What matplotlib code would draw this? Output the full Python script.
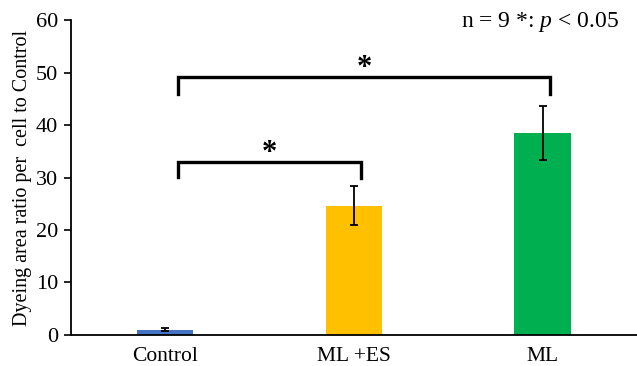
import matplotlib
matplotlib.use("Agg")
import matplotlib.pyplot as plt

groups = ["Control", "ML+ES", "ML"]
values = [1.0, 24.6, 38.5]
errors = [0.3, 3.7, 5.2]
colors = ["#4472C4", "#FFC000", "#00B050"]

plt.rcParams['font.family'] = ['Liberation Serif', 'DejaVu Serif']
plt.rcParams['mathtext.fontset'] = 'custom'
plt.rcParams['mathtext.rm'] = 'Liberation Serif'
plt.rcParams['mathtext.it'] = 'Liberation Serif:italic'

fig = plt.figure(figsize=(6.37, 3.66), dpi=100)
ax = fig.add_axes([0.111, 0.085, 0.889, 0.86])

x = list(range(len(groups)))
ax.bar(x, values, width=0.3, color=colors,
       yerr=errors, capsize=3, error_kw=dict(elinewidth=1.3, capthick=1.3, ecolor='black'))

ax.set_xlim(-0.5, 2.5)
ax.set_ylim(0, 60)
ax.set_yticks(range(0, 61, 10))
ax.set_xticks(x)
ax.set_xticklabels(["Control", "ML +ES", "ML"], fontsize=15.5)
ax.tick_params(axis='x', length=0, pad=9)
ax.tick_params(axis='y', labelsize=16, length=5, width=1.2, direction='out', pad=4)
ax.set_ylabel("Dyeing area ratio per  cell to Control", fontsize=14.5, labelpad=3)

for s in ['top', 'right']:
    ax.spines[s].set_visible(False)
ax.spines['left'].set_linewidth(1.3)
ax.spines['bottom'].set_linewidth(1.3)

# significance brackets
def bracket(x0, x1, ytop, y0, y1):
    ax.plot([x0, x0, x1, x1], [y0, ytop, ytop, y1], color='black', lw=2.4,
            solid_joinstyle='miter', clip_on=False)
    ax.text((x0 + x1) / 2, ytop - 1.2, "*", ha='center', va='bottom', fontsize=22,
            fontweight='bold')

bracket(0.07, 1.04, 33.0, 30.1, 29.9)
bracket(0.07, 2.04, 49.2, 46.0, 46.0)

fig.text(0.972, 0.94, "n = 9 *: $p$ < 0.05", ha='right', va='center', fontsize=17)

fig.savefig("out.png", dpi=100)
